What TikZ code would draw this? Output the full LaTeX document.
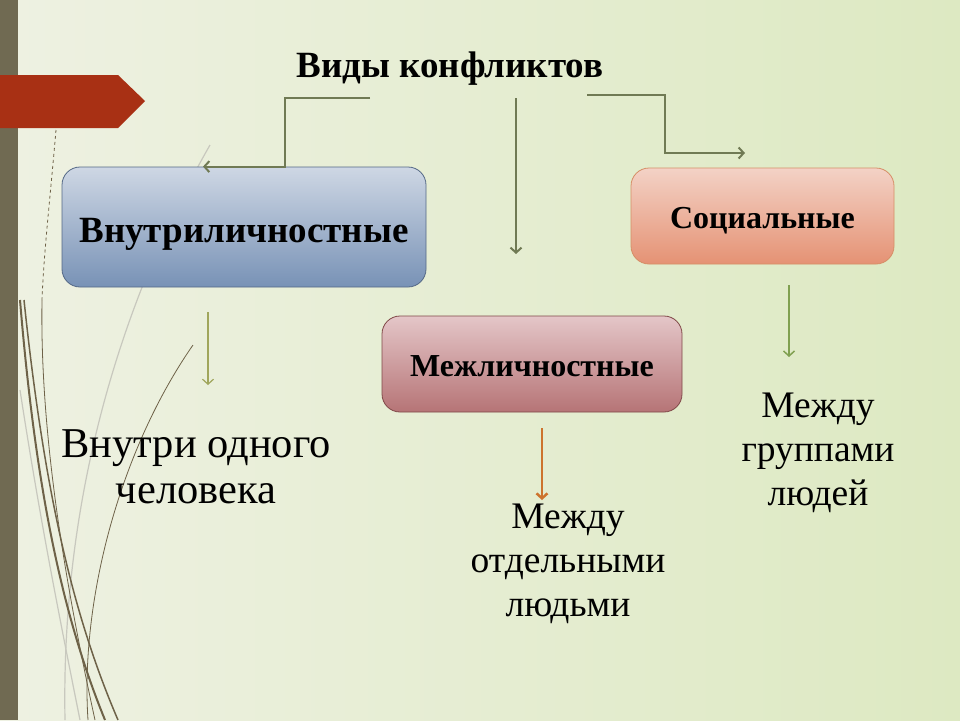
\documentclass[tikz,border=0pt]{standalone}
\usepackage{fontspec}
\setmainfont{Liberation Serif}
\usetikzlibrary{arrows.meta}

\definecolor{bgleft}{RGB}{238,241,226}
\definecolor{bgmid}{RGB}{249,250,243}
\definecolor{bgright}{RGB}{221,233,194}
\definecolor{barcol}{RGB}{112,106,82}
\definecolor{redarrow}{RGB}{168,48,20}
\definecolor{conncol}{RGB}{112,122,84}
\definecolor{curvecol}{RGB}{110,98,72}
\definecolor{lightcurve}{RGB}{200,200,190}
\definecolor{innertop}{RGB}{206,215,228}
\definecolor{innerbot}{RGB}{120,146,182}
\definecolor{innerline}{RGB}{84,104,134}
\definecolor{socialtop}{RGB}{243,210,198}
\definecolor{socialbot}{RGB}{229,146,116}
\definecolor{socialline}{RGB}{214,142,102}
\definecolor{intertop}{RGB}{228,198,200}
\definecolor{interbot}{RGB}{182,116,118}
\definecolor{interline}{RGB}{128,72,72}
\definecolor{innerarrow}{RGB}{160,166,92}
\definecolor{socialarrow}{RGB}{128,160,80}
\definecolor{interarrow}{RGB}{205,115,45}

\begin{document}
\begin{tikzpicture}[x=1pt, y=-1pt,
  box/.style={draw, rounded corners=18pt, line width=0.8pt, align=center,
    text height=25pt, text depth=0pt,
    font=\bfseries\fontsize{32}{36}\selectfont},
  conn/.style={line width=2pt, draw=conncol, ->},
  label/.style={align=center, font=\fontsize{37.5}{44}\selectfont},
  >={Straight Barb[length=5pt,width=11pt]}]
  \useasboundingbox (0,0) rectangle (960,720);
  % background
  \shade [left color=bgleft, middle color=bgmid, right color=bgright] (0,0) rectangle (960,720);
  \fill [barcol] (0,0) rectangle (18,720);
  \fill [redarrow] (0,75) -- (118,75) -- (145,101) -- (118,128) -- (0,128) -- cycle;

  % curves
  \draw [lightcurve, line width=1.2pt] (210,145) .. controls (150,250) and (60,450) .. (65,720);
  \draw [lightcurve, line width=1.2pt] (20,390) .. controls (40,520) and (60,620) .. (80,720);
  \draw [curvecol, line width=2pt] (20,300) .. controls (35,480) and (60,610) .. (105,720);
  \draw [curvecol, line width=1.5pt] (24,300) .. controls (45,500) and (75,620) .. (118,720);
  \draw [curvecol, line width=0.8pt, dashed] (56,130) .. controls (50,200) and (44,250) .. (42,300);
  \draw [curvecol, line width=0.8pt] (42,300) .. controls (40,420) and (60,560) .. (95,720);
  \draw [curvecol, line width=0.8pt] (193,345) .. controls (120,450) and (80,600) .. (88,720);

  \node [font=\bfseries\fontsize{37}{40}\selectfont] (Title_node) at (450, 69) {Виды конфликтов};

  \node [box, top color=innertop, bottom color=innerbot, draw=innerline,
    minimum width=364, minimum height=120, text height=30pt,
    font=\bfseries\fontsize{37}{40}\selectfont]
    (Inner_node) at (244, 227) {Внутриличностные};
  \node [box, top color=socialtop, bottom color=socialbot, draw=socialline,
    minimum width=263, minimum height=96, text height=24pt] (Social_node) at (762.5, 216) {Социальные};
  \node [box, top color=intertop, bottom color=interbot, draw=interline,
    minimum width=300, minimum height=96] (Inter_node) at (532, 364) {Межличностные};

  \node [label, font=\fontsize{42.5}{46}\selectfont] (Inner_text) at (196, 467) {Внутри одного\\человека};
  \node [label] (Inter_text) at (568, 564) {Между\\отдельными\\людьми};
  \node [label] (Social_text) at (818, 453) {Между\\группами\\людей};

  \coordinate (Title_left) at (370, 98);
  \coordinate (Title_mid) at (516, 98);
  \coordinate (Mid_end) at (516, 254);
  \coordinate (Title_right) at (587, 95);
  \coordinate (Social_in) at (745, 153);
  \draw [conn] (Title_left) -- ++(-85,0) |- ([xshift=-41pt]Inner_node.north);
  \draw [conn] (Title_mid) -- (Mid_end);
  \draw [conn] (Title_right) -| ++(78,58) -- (Social_in);

  \coordinate (Inner_out) at (208, 312);
  \coordinate (Inner_tip) at (208, 385);
  \coordinate (Social_out) at (789, 285);
  \coordinate (Social_tip) at (789, 357);
  \coordinate (Inter_out) at (542, 428);
  \coordinate (Inter_tip) at (542, 500);
  \draw [conn, line width=1.2pt, draw=innerarrow] (Inner_out) -- (Inner_tip);
  \draw [conn, line width=1.5pt, draw=socialarrow] (Social_out) -- (Social_tip);
  \draw [conn, line width=2.5pt, draw=interarrow] (Inter_out) -- (Inter_tip);
\end{tikzpicture}
\end{document}
